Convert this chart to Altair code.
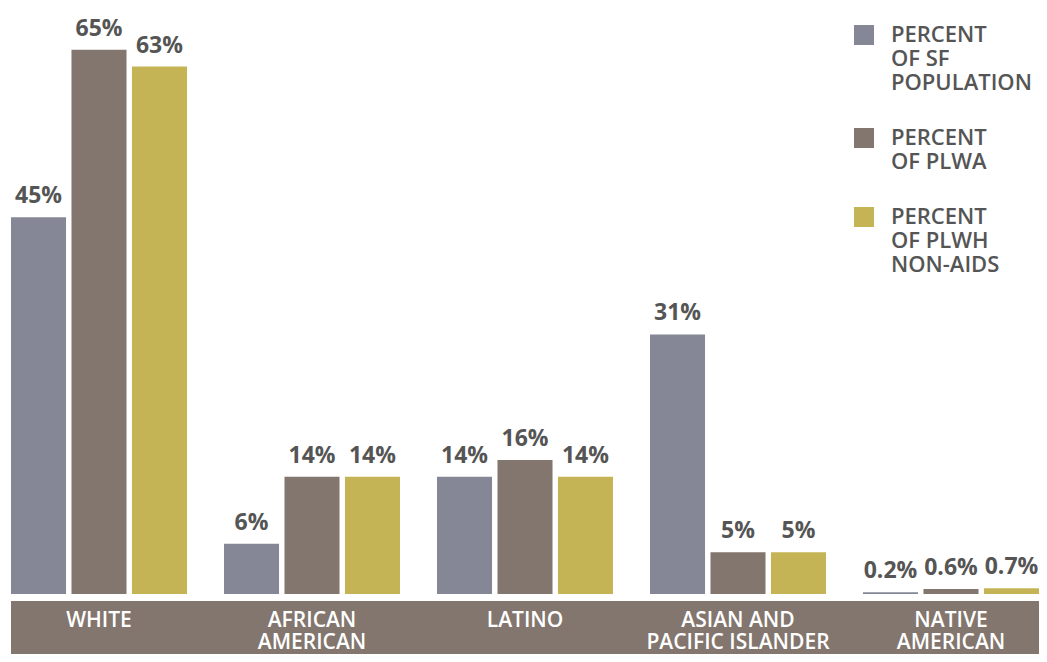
import altair as alt
import pandas as pd

categories = ["WHITE", "AFRICAN AMERICAN", "LATINO", "ASIAN AND PACIFIC ISLANDER", "NATIVE AMERICAN"]
category_labels = ["WHITE", "AFRICAN|AMERICAN", "LATINO", "ASIAN AND|PACIFIC ISLANDER", "NATIVE|AMERICAN"]
series = ["PERCENT|OF SF|POPULATION", "PERCENT|OF PLWA", "PERCENT|OF PLWH|NON-AIDS"]
sf_population = [45, 6, 14, 31, 0.2]
plwa = [65, 14, 16, 5, 0.6]
plwh_non_aids = [63, 14, 14, 5, 0.7]
colors = ["#858796", "#83766e", "#c4b455"]

rows = []
for vals, s in zip([sf_population, plwa, plwh_non_aids], series):
    for c, v in zip(categories, vals):
        rows.append({"category": c, "series": s, "value": v})
df = pd.DataFrame(rows)
cat_df = pd.DataFrame({"category": categories, "label": category_labels})

W, H = 1028, 586

xscale = alt.Scale(domain=categories, paddingInner=0.1737, paddingOuter=0)
yscale = alt.Scale(domain=[0, 70])
base = alt.Chart(df).encode(
    x=alt.X("category:N", scale=xscale, axis=None, sort=categories),
    xOffset=alt.XOffset("series:N", sort=series, scale=alt.Scale(domain=series, paddingInner=0.09)),
)

bars = base.mark_bar().encode(
    y=alt.Y("value:Q", scale=yscale, axis=None),
    color=alt.Color(
        "series:N",
        sort=series,
        scale=alt.Scale(domain=series, range=colors),
        legend=alt.Legend(
            title=None,
            orient="none",
            legendX=842,
            legendY=16,
            symbolType="square",
            symbolSize=400,
            symbolStrokeWidth=0,
            labelFont="Open Sans",
            labelFontSize=22,
            labelFontWeight=600,
            labelColor="#555555",
            labelLimit=300,
            labelOffset=16,
            rowPadding=33,
            labelExpr="split(datum.label, '|')",
        ),
    ),
)

texts = base.mark_text(
    baseline="alphabetic", dy=-14, font="Open Sans", fontSize=23, fontWeight="bold", color="#555555"
).transform_calculate(label="datum.value + '%'").encode(
    y=alt.Y("value:Q", scale=yscale, axis=None),
    text="label:N",
)

band = alt.Chart(alt.Data(values=[{"a": 1}])).mark_rect(color="#83766e").encode(
    x=alt.value(0), x2=alt.value(W), y=alt.value(H + 7), y2=alt.value(H + 60)
)

band_text = alt.Chart(cat_df).mark_text(
    lineBreak="|", baseline="alphabetic", font="Open Sans", fontSize=21, fontWeight=600,
    color="white", lineHeight=22,
).encode(
    x=alt.X("category:N", scale=xscale, axis=None, sort=categories),
    y=alt.value(H + 33),
    text="label:N",
)

chart = alt.layer(band, bars, texts, band_text).properties(
    width=W, height=H,
    padding={"left": 3, "top": 0, "right": 0, "bottom": 60},
    autosize=alt.AutoSizeParams(type="none"),
).configure_view(stroke=None)

chart.save("out.html", embed_options={"renderer": "svg", "actions": False})
